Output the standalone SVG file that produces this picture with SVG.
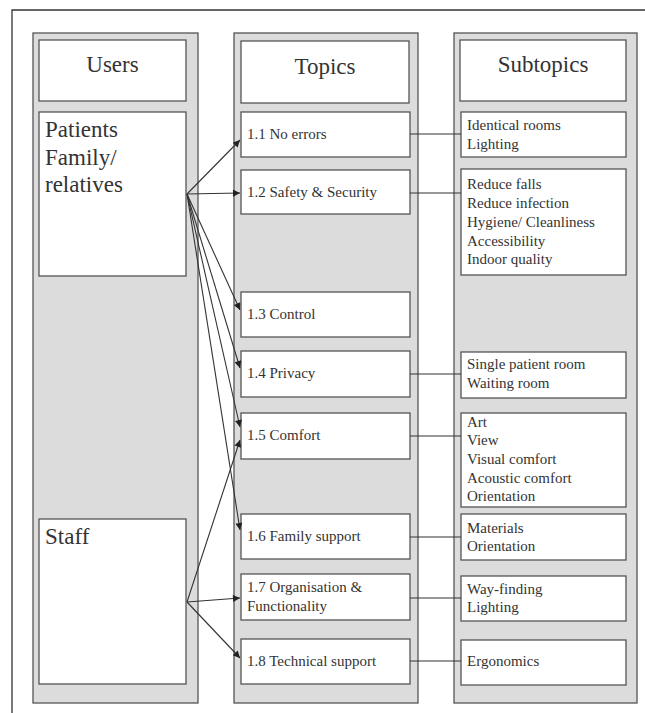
<svg xmlns="http://www.w3.org/2000/svg" width="645" height="713" viewBox="0 0 645 713">
<defs>
<style>
.col{fill:#dcdcdc;stroke:#555;stroke-width:1.3}
.box{fill:#fff;stroke:#555;stroke-width:1.3}
.hd{font-family:"Liberation Serif","Times New Roman",serif;font-size:23px;fill:#333}
.tp{font-family:"Liberation Serif","Times New Roman",serif;font-size:15px;fill:#333}
.st{font-family:"Liberation Serif","Times New Roman",serif;font-size:15px;fill:#333}
.ln{stroke:#333;stroke-width:1.1;fill:none}
.ar{stroke:#333;stroke-width:1.1;fill:none;marker-end:url(#ah)}
</style>
<marker id="ah" viewBox="0 0 10 10" refX="10" refY="5" markerWidth="8" markerHeight="7" markerUnits="userSpaceOnUse" orient="auto">
<path d="M0,0 L10,5 L0,10 z" fill="#222"/>
</marker>
</defs>
<rect width="645" height="713" fill="#fff"/>
<path d="M12,713 V10 H645" fill="none" stroke="#333" stroke-width="1.3"/>

<g id="col-users">
<rect class="col" x="33" y="33" width="165" height="670"/>
</g>
<g id="col-topics">
<rect class="col" x="234" y="33" width="184" height="670"/>
</g>
<g id="col-subtopics">
<rect class="col" x="454" y="33" width="183" height="670"/>
</g>

<g id="h-users"><rect class="box" x="39" y="40" width="147" height="61"/><text class="hd" x="112.5" y="72" text-anchor="middle">Users</text></g>
<g id="h-topics"><rect class="box" x="241" y="41" width="168" height="62"/><text class="hd" x="325" y="74" text-anchor="middle">Topics</text></g>
<g id="h-subtopics"><rect class="box" x="460" y="40" width="166" height="61"/><text class="hd" x="543" y="72" text-anchor="middle">Subtopics</text></g>

<g id="u-patients"><rect class="box" x="39" y="112" width="147" height="164"/>
<text class="hd" x="45" y="137">Patients</text><text class="hd" x="45" y="165">Family/</text><text class="hd" x="45" y="192">relatives</text></g>
<g id="u-staff"><rect class="box" x="39" y="519" width="147" height="165"/>
<text class="hd" x="45" y="544">Staff</text></g>

<g id="t11"><rect class="box" x="241" y="112" width="169" height="45"/><text class="tp" x="247" y="139">1.1 No errors</text></g>
<g id="t12"><rect class="box" x="241" y="170" width="169" height="44"/><text class="tp" x="247" y="197">1.2 Safety &amp; Security</text></g>
<g id="t13"><rect class="box" x="241" y="292" width="169" height="45"/><text class="tp" x="247" y="319">1.3 Control</text></g>
<g id="t14"><rect class="box" x="241" y="351" width="169" height="46"/><text class="tp" x="247" y="378">1.4 Privacy</text></g>
<g id="t15"><rect class="box" x="241" y="413" width="169" height="46"/><text class="tp" x="247" y="440">1.5 Comfort</text></g>
<g id="t16"><rect class="box" x="241" y="514" width="169" height="45"/><text class="tp" x="247" y="541">1.6 Family support</text></g>
<g id="t17"><rect class="box" x="241" y="574" width="169" height="46"/><text class="tp" x="247" y="592">1.7 Organisation &amp;</text><text class="tp" x="247" y="611">Functionality</text></g>
<g id="t18"><rect class="box" x="241" y="639" width="169" height="45"/><text class="tp" x="247" y="666">1.8 Technical support</text></g>

<g id="s11"><rect class="box" x="461" y="112" width="165" height="45"/>
<text class="st" x="467" y="130">Identical rooms</text><text class="st" x="467" y="149">Lighting</text></g>
<g id="s12"><rect class="box" x="461" y="169" width="165" height="106"/>
<text class="st" x="467" y="189">Reduce falls</text><text class="st" x="467" y="208">Reduce infection</text><text class="st" x="467" y="227">Hygiene/ Cleanliness</text><text class="st" x="467" y="246">Accessibility</text><text class="st" x="467" y="264">Indoor quality</text></g>
<g id="s14"><rect class="box" x="461" y="352" width="165" height="46"/>
<text class="st" x="467" y="369">Single patient room</text><text class="st" x="467" y="388">Waiting room</text></g>
<g id="s15"><rect class="box" x="461" y="413" width="165" height="94"/>
<text class="st" x="467" y="427">Art</text><text class="st" x="467" y="445">View</text><text class="st" x="467" y="464">Visual comfort</text><text class="st" x="467" y="483">Acoustic comfort</text><text class="st" x="467" y="501">Orientation</text></g>
<g id="s16"><rect class="box" x="461" y="514" width="165" height="46"/>
<text class="st" x="467" y="533">Materials</text><text class="st" x="467" y="551">Orientation</text></g>
<g id="s17"><rect class="box" x="461" y="576" width="165" height="45"/>
<text class="st" x="467" y="594">Way-finding</text><text class="st" x="467" y="612">Lighting</text></g>
<g id="s18"><rect class="box" x="461" y="640" width="165" height="45"/>
<text class="st" x="467" y="666">Ergonomics</text></g>

<g id="connectors">
<path class="ar" d="M187,194 L240,140"/>
<path class="ar" d="M187,194 L240,193"/>
<path class="ar" d="M187,194 L240,310"/>
<path class="ar" d="M187,194 L240,368"/>
<path class="ar" d="M187,194 L240,427"/>
<path class="ar" d="M187,194 L240,530"/>
<path class="ar" d="M187,602 L240,440"/>
<path class="ar" d="M187,602 L240,598"/>
<path class="ar" d="M187,602 L240,658"/>
<path class="ln" d="M410,134 H461"/>
<path class="ln" d="M410,193 H461"/>
<path class="ln" d="M410,374 H461"/>
<path class="ln" d="M410,436 H461"/>
<path class="ln" d="M410,537 H461"/>
<path class="ln" d="M410,598 H461"/>
<path class="ln" d="M410,661 H461"/>
</g>
</svg>
